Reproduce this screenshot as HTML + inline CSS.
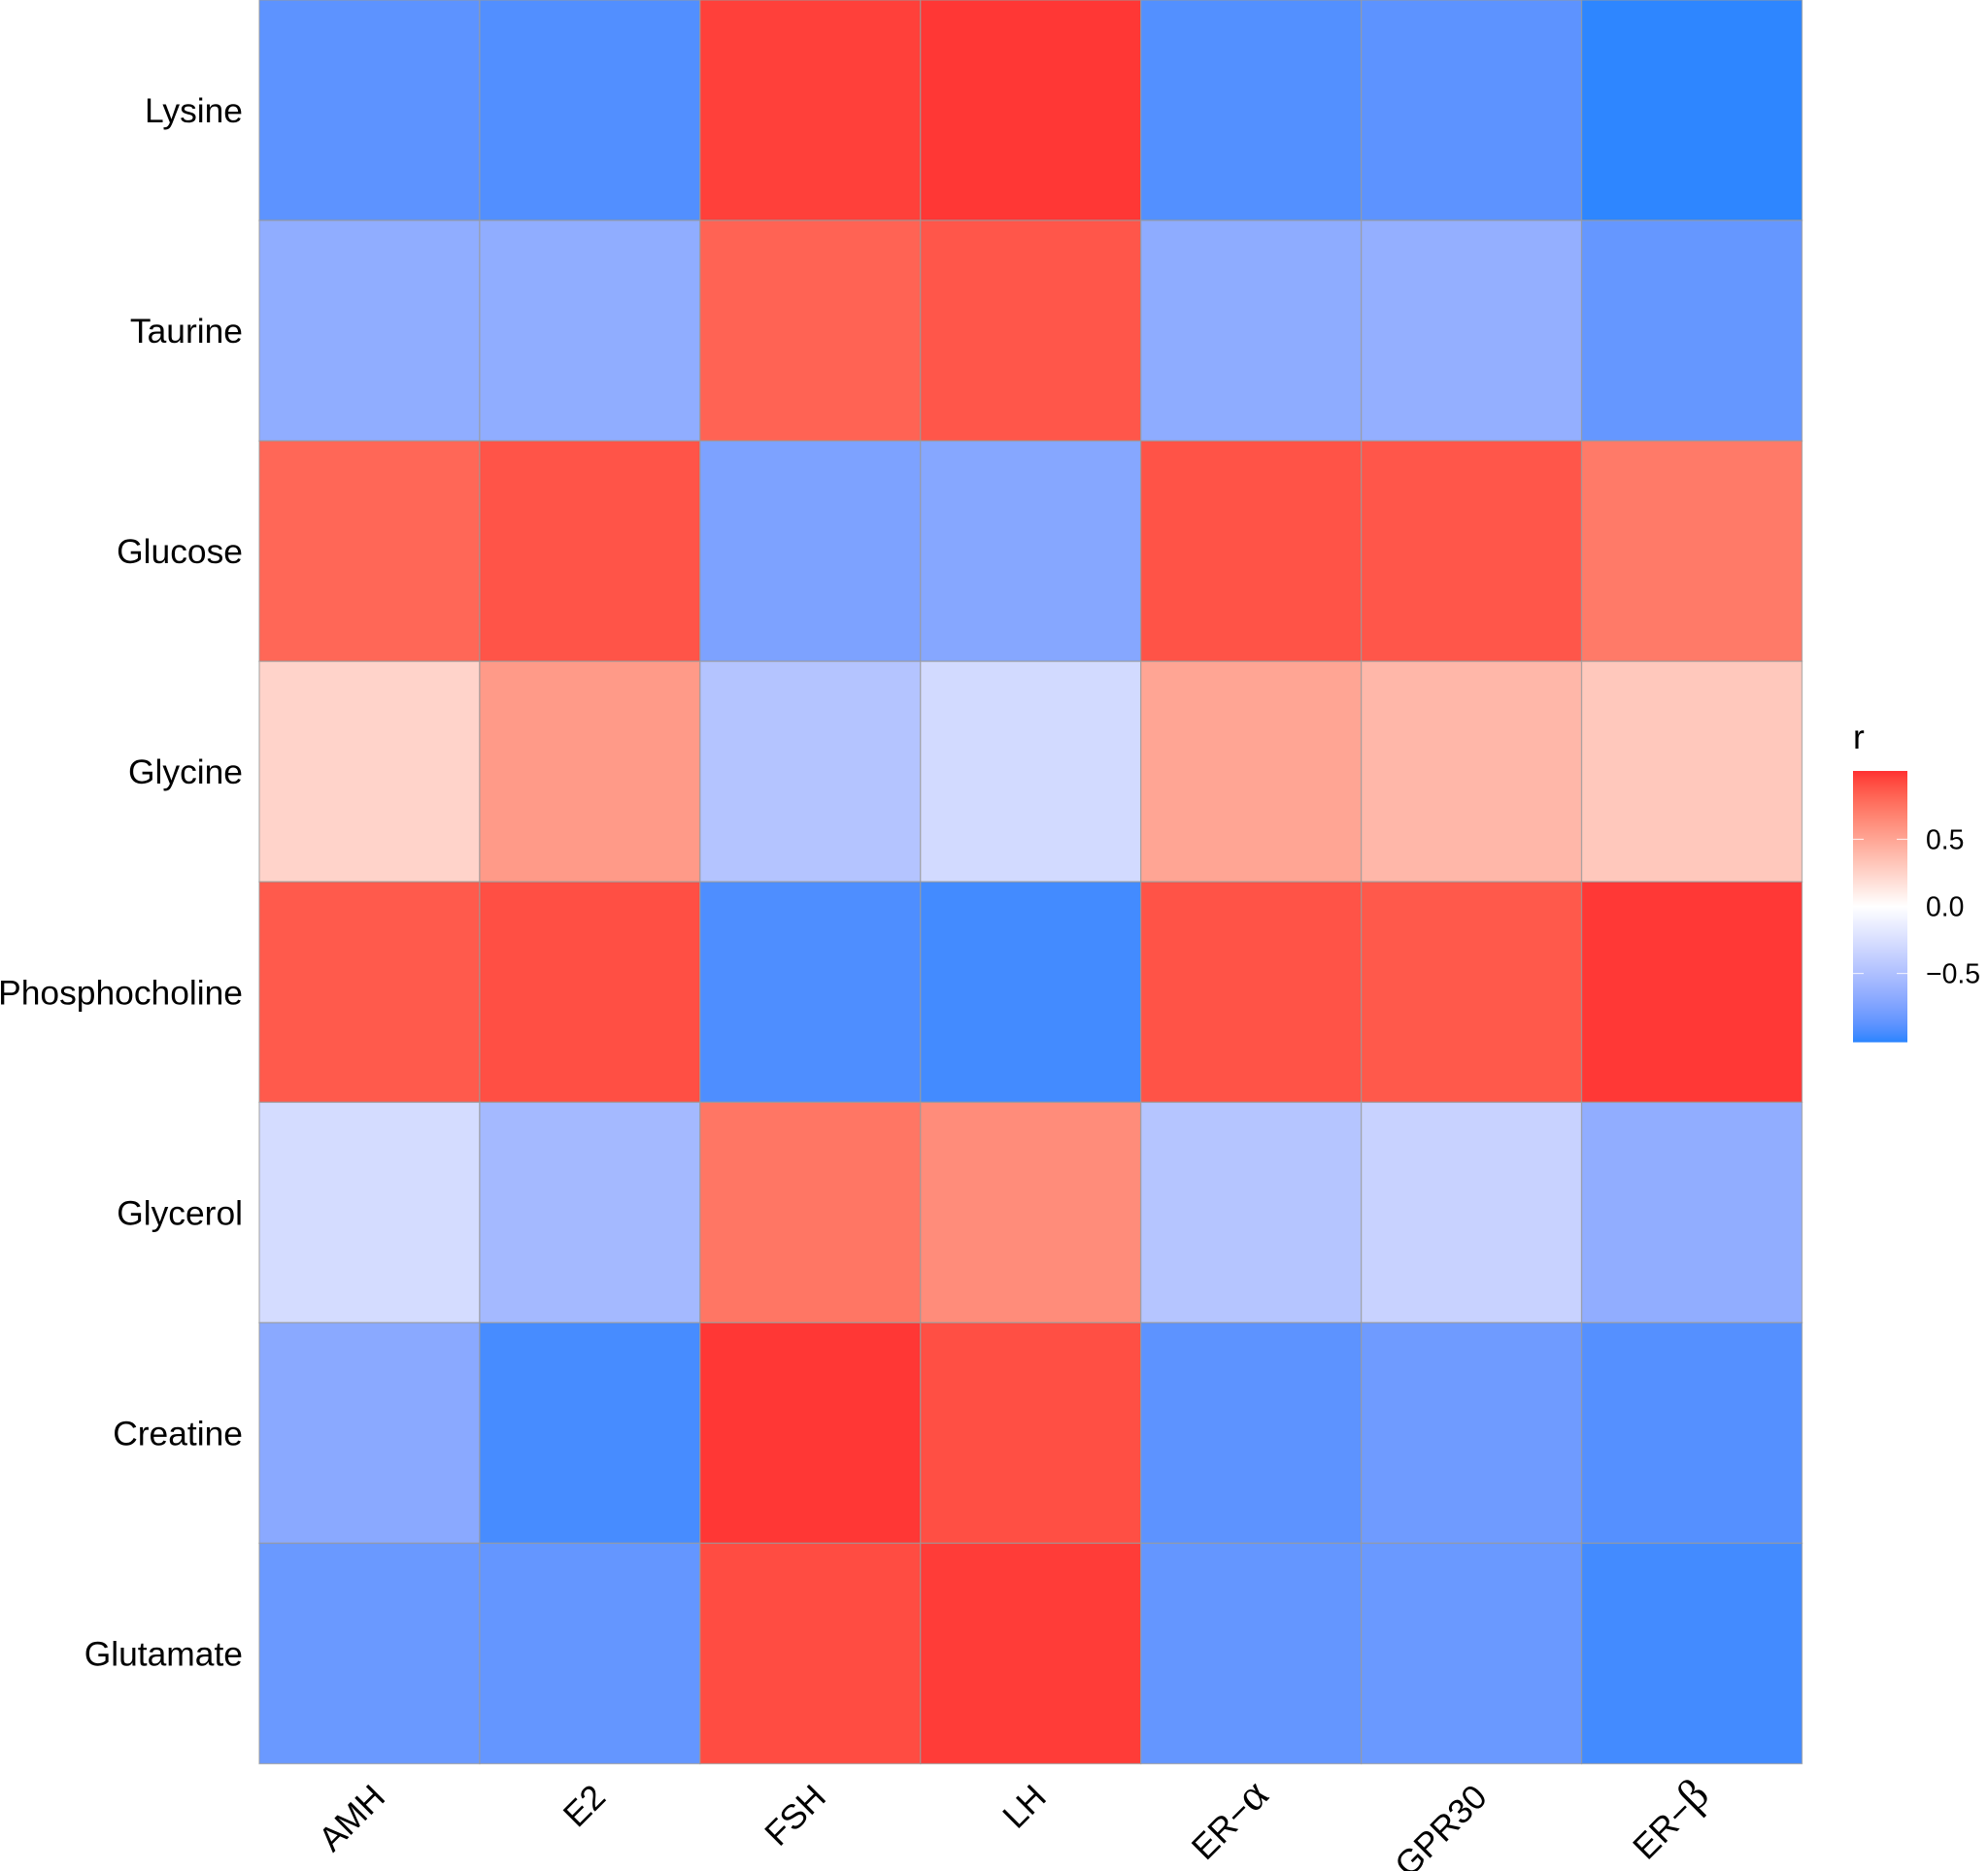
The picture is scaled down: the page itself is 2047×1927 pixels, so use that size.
<!DOCTYPE html>
<html>
<head>
<meta charset="utf-8">
<title>Metabolite and hormone correlation heatmap</title>
<style>
html,body{margin:0;padding:0;background:#fff;}
svg{display:block;font-family:"Liberation Sans",sans-serif;}
</style>
</head>
<body>
<svg id="chart" xmlns="http://www.w3.org/2000/svg" width="2047" height="1927" viewBox="0 0 2047 1927">
<rect width="2047" height="1927" fill="#ffffff"></rect>
<g id="cells"></g>
<g id="ylabels"></g>
<g id="xlabels"></g>
<g id="legend">
<text x="1908" y="771" font-size="35.4" fill="#000">r</text>
</g>
</svg>
<script>
const metabolites = ["Lysine","Taurine","Glucose","Glycine","Phosphocholine","Glycerol","Creatine","Glutamate"];
const markers = ["AMH","E2","FSH","LH","ER−α","GPR30","ER−β"];
const lysine = [-0.88,-0.915,0.96,0.99,-0.91,-0.88,-1.0];
const taurine = [-0.66,-0.66,0.825,0.88,-0.67,-0.64,-0.85];
const glucose = [0.81,0.89,-0.75,-0.71,0.895,0.88,0.72];
const glycine = [0.245,0.56,-0.47,-0.29,0.50,0.40,0.31];
const phosphocholine = [0.865,0.91,-0.925,-0.955,0.895,0.87,0.985];
const glycerol = [-0.275,-0.56,0.74,0.63,-0.46,-0.35,-0.655];
const creatine = [-0.69,-0.945,0.99,0.91,-0.88,-0.81,-0.905];
const glutamate = [-0.83,-0.855,0.92,0.975,-0.855,-0.83,-0.955];
const matrix = [lysine,taurine,glucose,glycine,phosphocholine,glycerol,creatine,glutamate];
const legendTicks = [0.5,0,-0.5];
const legendTickLabels = ["0.5","0.0","−0.5"];
const legendDomain = [-1.01,1.01];

const NS = "http://www.w3.org/2000/svg";
const plot = {left:267,right:1855.5,top:0,bottom:1816.5};
const bar = {left:1908,right:1964,top:794,bottom:1073};
const xBand = i => plot.left + i*(plot.right-plot.left)/markers.length;
const yBand = i => plot.top + i*(plot.bottom-plot.top)/metabolites.length;
const legendY = v => bar.top + (legendDomain[1]-v)/(legendDomain[1]-legendDomain[0])*(bar.bottom-bar.top);

function srgbToLab(r,g,b){
  const f=c=>{c/=255;return c<=0.04045?c/12.92:Math.pow((c+0.055)/1.055,2.4);};
  const R=f(r),G=f(g),B=f(b);
  const X=(0.4124*R+0.3576*G+0.1805*B)/0.95047,Y=0.2126*R+0.7152*G+0.0722*B,Z=(0.0193*R+0.1192*G+0.9505*B)/1.08883;
  const h=t=>t>0.008856?Math.cbrt(t):7.787*t+16/116;
  return [116*h(Y)-16,500*(h(X)-h(Y)),200*(h(Y)-h(Z))];
}
function labToCss(L,a,b){
  const fy=(L+16)/116,fx=fy+a/500,fz=fy-b/200;
  const h=t=>t*t*t>0.008856?t*t*t:(t-16/116)/7.787;
  const X=h(fx)*0.95047,Y=h(fy),Z=h(fz)*1.08883;
  const g=c=>{c=Math.max(0,Math.min(1,c));return Math.round(255*(c<=0.0031308?12.92*c:1.055*Math.pow(c,1/2.4)-0.055));};
  return "rgb("+g(3.2406*X-1.5372*Y-0.4986*Z)+","+g(-0.9689*X+1.8758*Y+0.0415*Z)+","+g(0.0557*X-0.2040*Y+1.0570*Z)+")";
}
const labHigh = srgbToLab(255,51,51), labMid = srgbToLab(255,255,255), labLow = srgbToLab(46,134,255);
function colorScale(v){
  const t=Math.min(1,Math.abs(v)), end=v>=0?labHigh:labLow;
  return labToCss(labMid[0]+(end[0]-labMid[0])*t,labMid[1]+(end[1]-labMid[1])*t,labMid[2]+(end[2]-labMid[2])*t);
}

const cellsG=document.getElementById("cells");
matrix.forEach((row,r)=>{
  row.forEach((v,c)=>{
    const el=document.createElementNS(NS,"rect");
    
    
    el.setAttribute("x",xBand(c));
    el.setAttribute("y",yBand(r));
    el.setAttribute("width",xBand(c+1)-xBand(c));
    el.setAttribute("height",yBand(r+1)-yBand(r));
    el.setAttribute("fill",colorScale(v));
    el.setAttribute("stroke","#9a9a9a");
    el.setAttribute("stroke-opacity","0.7");
    el.setAttribute("stroke-width","1.3");
    cellsG.appendChild(el);
  });
});

const yG=document.getElementById("ylabels");
metabolites.forEach((name,i)=>{
  const el=document.createElementNS(NS,"text");
  
  
  el.setAttribute("x",250);
  el.setAttribute("y",(yBand(i)+yBand(i+1))/2+12.5);
  el.setAttribute("text-anchor","end");
  el.setAttribute("font-size","35.4");
  el.setAttribute("fill","#000");
  el.textContent=name;
  yG.appendChild(el);
});

const xG=document.getElementById("xlabels");
markers.forEach((name,i)=>{
  const isGreek=/[αβ]$/.test(name);
  const cx=(xBand(i)+xBand(i+1))/2+(isGreek?20:18), cy=isGreek?1851:1853;
  const el=document.createElementNS(NS,"text");
  
  
  el.setAttribute("text-anchor","end");
  el.setAttribute("font-size","35.4");
  el.setAttribute("fill","#000");
  el.setAttribute("transform","translate("+cx+","+cy+") rotate(-45)");
  const m=name.match(/^(.*)([αβ])$/);
  if(m){
    el.appendChild(document.createTextNode(m[1]));
    const g=document.createElementNS(NS,"tspan");
    
    
    g.setAttribute("font-family",'"Liberation Serif",serif');
    g.setAttribute("font-size","46");
    g.textContent=m[2];
    el.appendChild(g);
  } else {
    el.textContent=name;
  }
  xG.appendChild(el);
});

const lg=document.getElementById("legend");
for(let y=bar.top;y<bar.bottom;y++){
  const v=legendDomain[1]-(y+0.5-bar.top)/(bar.bottom-bar.top)*(legendDomain[1]-legendDomain[0]);
  const s=document.createElementNS(NS,"rect");
  
  
  s.setAttribute("x",bar.left);
  s.setAttribute("y",y);
  s.setAttribute("width",bar.right-bar.left);
  s.setAttribute("height",1.5);
  s.setAttribute("fill",colorScale(v));
  lg.appendChild(s);
}
legendTicks.forEach((v,i)=>{
  const y=legendY(v);
  [[bar.left,bar.left+11],[bar.right-11,bar.right]].forEach(p=>{
    const t=document.createElementNS(NS,"line");
    
    
    t.setAttribute("x1",p[0]);
    t.setAttribute("x2",p[1]);
    t.setAttribute("y1",y);
    t.setAttribute("y2",y);
    t.setAttribute("stroke","#ffffff");
    t.setAttribute("stroke-opacity","0.75");
    t.setAttribute("stroke-width","1.2");
    lg.appendChild(t);
  });
  const l=document.createElementNS(NS,"text");
  
  
  l.setAttribute("x",1983);
  l.setAttribute("y",y+10);
  l.setAttribute("font-size","28.4");
  l.setAttribute("fill","#000");
  l.textContent=legendTickLabels[i];
  lg.appendChild(l);
});
</script>
</body>
</html>
